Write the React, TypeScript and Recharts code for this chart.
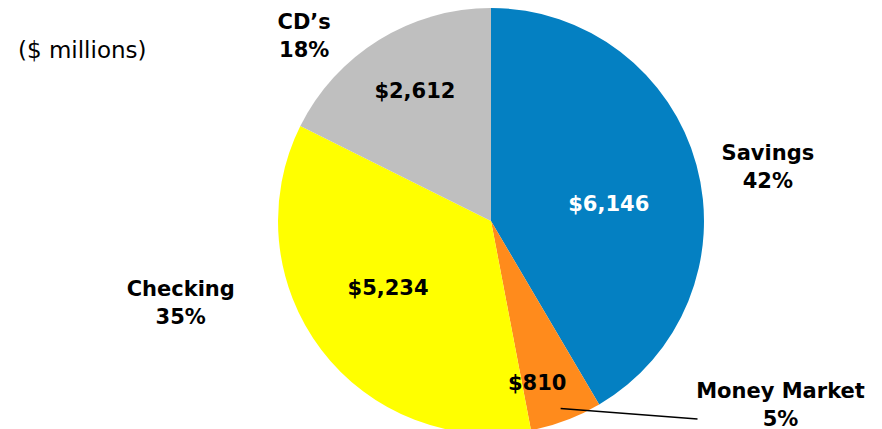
import React from 'react';
import { PieChart, Pie, Cell } from 'recharts';

const categories = ['Savings', 'Money Market', 'Checking', "CD\u2019s"];
const amounts = [6146, 810, 5234, 2612];
const pctLabels = ['42%', '5%', '35%', '18%'];
const valueLabels = ['$6,146', '$810', '$5,234', '$2,612'];

const COLORS = ['#0480C2', '#FF8B1C', '#FFFF00', '#BFBFBF'];
const VALUE_COLORS = ['#FFFFFF', '#000000', '#000000', '#000000'];

// label placement relative to each slice's mid angle (deg offset, radius px)
const VALUE_POS = [
  { da: -7, r: 119 },
  { da: -4.7, r: 168 },
  { da: -4, r: 123 },
  { da: -1.5, r: 151 },
];
const NAME_POS = [
  { da: -4.3, r: 282 },
  { da: 36.9, r: 343 },
  { da: -22.3, r: 321 },
  { da: 13.5, r: 263 },
];

const RAD = Math.PI / 180;
const polar = (cx: number, cy: number, r: number, a: number) => ({
  x: cx + r * Math.cos(a * RAD),
  y: cy - r * Math.sin(a * RAD),
});

const data = categories.map((name, i) => ({ name, value: amounts[i] }));

const FONT = '"DejaVu Sans", sans-serif';

const renderLabel = (props: any) => {
  const { cx, cy, midAngle, outerRadius, index } = props;
  const v = polar(cx, cy, VALUE_POS[index].r, midAngle + VALUE_POS[index].da);
  const n = polar(cx, cy, NAME_POS[index].r, midAngle + NAME_POS[index].da);
  let leader = null;
  if (index === 1) {
    const s = polar(cx, cy, outerRadius - 13, midAngle - 0.3);
    leader = <line x1={s.x} y1={s.y} x2={n.x - 83} y2={n.y + 14} stroke="#000" strokeWidth={1.5} />;
  }
  return (
    <g key={'lbl' + index}>
      {leader}
      <text x={v.x} y={v.y} fill={VALUE_COLORS[index]} textAnchor="middle" dominantBaseline="central"
        fontFamily={FONT} fontWeight="bold" fontSize={21}>
        {valueLabels[index]}
      </text>
      <text x={n.x} y={n.y - 14} fill="#000" textAnchor="middle" dominantBaseline="central"
        fontFamily={FONT} fontWeight="bold" fontSize={21}>
        {categories[index]}
      </text>
      <text x={n.x} y={n.y + 14} fill="#000" textAnchor="middle" dominantBaseline="central"
        fontFamily={FONT} fontWeight="bold" fontSize={21}>
        {pctLabels[index]}
      </text>
    </g>
  );
};

export default function App() {
  return (
    <div style={{ position: 'absolute', left: 0, top: 0, width: 882, height: 429, background: '#fff', overflow: 'hidden' }}>
      <div style={{ position: 'absolute', left: 18, top: 37, fontFamily: FONT, fontSize: 23, color: '#000' }}>
        ($ millions)
      </div>
      <PieChart width={882} height={429} margin={{ top: 0, right: 0, bottom: 0, left: 0 }}
        style={{ position: 'absolute', left: 0, top: 0 }}>
        <Pie
          data={data}
          dataKey="value"
          cx={491}
          cy={221}
          outerRadius={213}
          startAngle={90}
          endAngle={-270}
          stroke="none"
          label={renderLabel}
          labelLine={false}
          isAnimationActive={false}
        >
          {data.map((d, i) => (
            <Cell key={d.name} fill={COLORS[i]} />
          ))}
        </Pie>
      </PieChart>
    </div>
  );
}
